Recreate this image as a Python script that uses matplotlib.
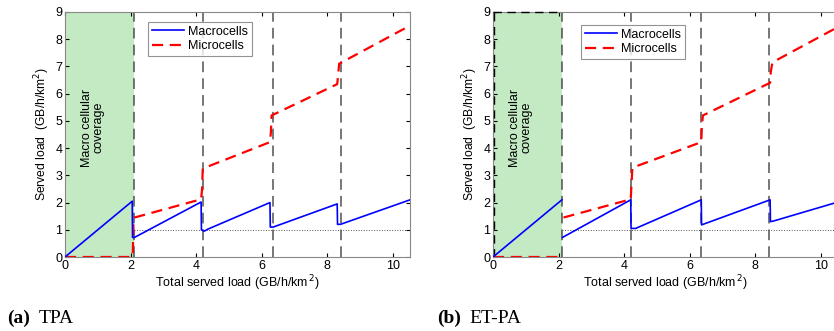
import matplotlib
matplotlib.use("Agg")
import matplotlib.pyplot as plt
from matplotlib.patches import Rectangle

nan = float('nan')

# ---------------- data ----------------
# Panel (a) TPA
a_macro_x = [0, 2.05, 2.06, 2.12, 4.15, 4.16, 4.25, 4.35, 6.25, 6.26, 6.35, 8.3, 8.31, 8.4, 10.52]
a_macro_y = [0, 2.05, 0.72, 0.72, 2.02, 1.0, 0.95, 1.02, 2.0, 1.1, 1.1, 1.95, 1.2, 1.2, 2.1]
a_micro_x = [0, 2.05, 2.07, 2.09, 2.12, 4.15, 4.18, 4.2, 6.25, 6.28, 6.3, 8.3, 8.33, 8.36, 10.52]
a_micro_y = [0, 0, 0.2, 1.35, 1.45, 2.12, 2.5, 3.25, 4.22, 4.6, 5.2, 6.35, 6.7, 7.1, 8.5]

# Panel (b) ET-PA
b_macro_x = [0, 2.1, nan, 2.12, 4.2, 4.21, 4.35, 6.35, 6.36, 6.45, 8.45, 8.46, 8.55, 10.52]
b_macro_y = [0, 2.1, nan, 0.72, 2.1, 1.05, 1.05, 2.1, 1.18, 1.22, 2.1, 1.3, 1.32, 2.02]
b_micro_x = [0, 2.1, nan, 2.15, 4.2, 4.22, 4.25, 6.35, 6.37, 6.4, 8.45, 8.47, 8.52, 10.52]
b_micro_y = [0, 0, nan, 1.45, 2.12, 2.6, 3.28, 4.22, 4.8, 5.2, 6.4, 6.8, 7.15, 8.45]

boundaries = [2.11, 4.22, 6.33, 8.43]
coverage_end = 2.11
xticks = [0, 2, 4, 6, 8, 10]
yticks = [0, 1, 2, 3, 4, 5, 6, 7, 8, 9]
legend_labels = ["Macrocells", "Microcells"]
captions = [("(a)", "TPA"), ("(b)", "ET-PA")]

# ---------------- figure ----------------
plt.rcParams['font.family'] = ['Liberation Sans', 'DejaVu Sans']
fig = plt.figure(figsize=(8.34, 3.31), dpi=100)

axes_rects = [
    [65 / 834, 74 / 331, 345 / 834, 245 / 331],
    [493 / 834, 74 / 331, 345 / 834, 245 / 331],
]
legend_pos = [(148 / 834, 1 - 22 / 331), (581 / 834, 1 - 25 / 331)]
caption_pos = [(7, 39), (437, 469)]

panels = [
    (a_macro_x, a_macro_y, a_micro_x, a_micro_y, False),
    (b_macro_x, b_macro_y, b_micro_x, b_micro_y, True),
]

for i, (mx, my, ux, uy, boxed) in enumerate(panels):
    ax = fig.add_axes(axes_rects[i])
    ax.set_xlim(0, 10.52)
    ax.set_ylim(0, 9)
    # green coverage patch
    ax.add_patch(Rectangle((0, 0), coverage_end, 9, facecolor='#c3eac3', edgecolor='none', zorder=0))
    if boxed:
        ax.plot([0, coverage_end], [9, 9], color='black', ls=(0, (6, 4)), lw=1.0, zorder=3, clip_on=False)
        ax.plot([0.02, 0.02], [0, 9], color='black', ls=(0, (6, 4)), lw=1.0, zorder=3)
    # vertical dashed boundaries
    for b in boundaries:
        ax.axvline(b, color='#333333', ls=(0, (7, 4)), lw=1.1, zorder=1, alpha=0.85)
    # dotted horizontal reference at 1
    ax.plot([coverage_end, 10.52], [1, 1], color='#555555', ls=':', lw=0.7, zorder=1)
    # series
    l1, = ax.plot(mx, my, color='#0000ff', lw=1.2, zorder=4, label=legend_labels[0])
    l2, = ax.plot(ux, uy, color='#ff0000', lw=1.6, ls=(0, (5, 3)), zorder=3, label=legend_labels[1])
    ax.set_xticks(xticks)
    ax.set_yticks(yticks)
    ax.tick_params(direction='in', length=3, labelsize=9, top=True, right=True, pad=2)
    for s in ax.spines.values():
        s.set_color('#888888')
        s.set_linewidth(0.8)
    ax.set_xlabel(r"Total served load (GB/h/km$^{\,2}$)", fontsize=9, labelpad=1)
    ax.set_ylabel(r"Served load  (GB/h/km$^2$)", fontsize=8.7, labelpad=2)
    ax.text(0.85, 4.75, "Macro cellular\ncoverage", rotation=90, ha='center', va='center',
            fontsize=9, linespacing=1.0)
    leg = ax.legend(handles=[l1, l2], loc='upper left', bbox_to_anchor=legend_pos[i],
                    bbox_transform=fig.transFigure, fontsize=9, frameon=True, fancybox=False,
                    handlelength=2.6, handletextpad=0.3, borderpad=0.3, labelspacing=0.2,
                    borderaxespad=0)
    leg.get_frame().set_edgecolor('#777777')
    leg.get_frame().set_linewidth(0.8)
    # caption
    cx1, cx2 = caption_pos[i]
    fig.text(cx1 / 834, 0.024, captions[i][0], fontsize=14, fontweight='bold',
             family='Liberation Serif', ha='left', va='baseline')
    fig.text(cx2 / 834, 0.024, captions[i][1], fontsize=14,
             family='Liberation Serif', ha='left', va='baseline')

fig.savefig("out.png", dpi=100)
